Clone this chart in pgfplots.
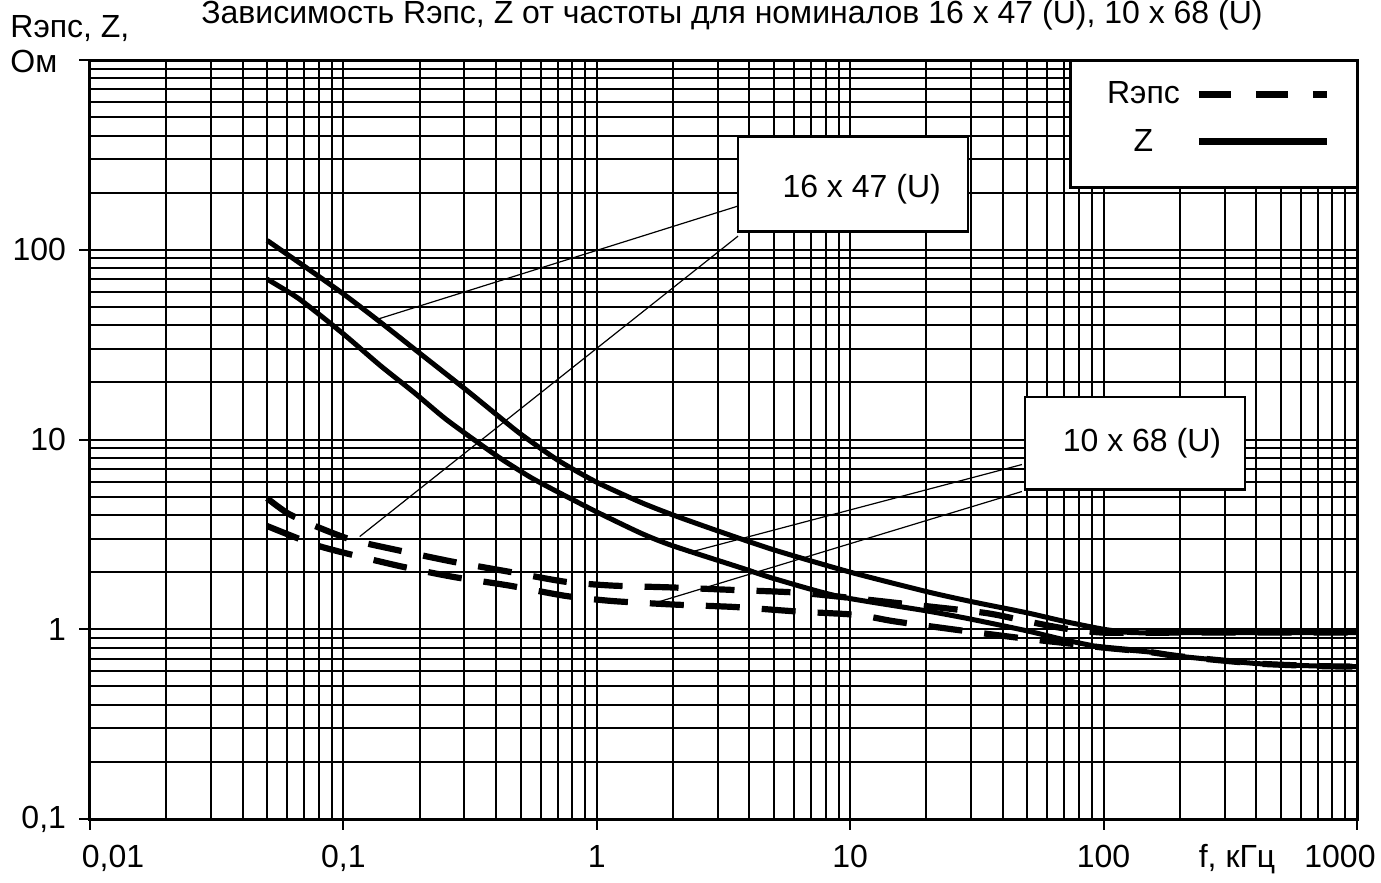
\documentclass[border=0pt]{standalone}
\usepackage{fontspec}
\setmainfont{Liberation Sans}
\usepackage{pgfplots}
\pgfplotsset{compat=1.18}
\newcommand{\lblfont}{\fontsize{16}{19}\selectfont}
\begin{document}
\begin{tikzpicture}
\path[use as bounding box] (-45pt,-32pt) rectangle (645.5pt,409.5pt);
\begin{axis}[
  at={(0pt,0pt)}, anchor=south west,
  scale only axis, width=633.5pt, height=379.5pt,
  xmode=log, ymode=log,
  xmin=0.01, xmax=1000, ymin=0.1, ymax=1000,
  clip=false,
  xtick={0.01,0.1,1,10,100,1000},
  xticklabels={{\hspace*{23pt}0,01},{0,1},1,10,100,{1000\hspace*{17pt}}},
  ytick={0.1,1,10,100,1000},
  yticklabels={{0,1},1,10,100,{}},
  minor xtick={0.02,0.03,0.04,0.05,0.06,0.07,0.08,0.09,
               0.2,0.3,0.4,0.5,0.6,0.7,0.8,0.9,
               2,3,4,5,6,7,8,9,20,30,40,50,60,70,80,90,
               200,300,400,500,600,700,800,900},
  minor ytick={0.2,0.3,0.4,0.5,0.6,0.7,0.8,0.9,
               2,3,4,5,6,7,8,9,20,30,40,50,60,70,80,90,
               200,300,400,500,600,700,800,900},
  grid=both,
  major grid style={black, line width=1pt},
  minor grid style={black, line width=1pt},
  axis line style={black, line width=1.5pt},
  tick pos=left, tick align=outside,
  major tick length=5.5pt, minor tick length=0pt,
  major tick style={black, line width=1pt},
  tick label style={font=\lblfont},
  xticklabel style={anchor=base, yshift=-19pt},
  yticklabel style={anchor=east, xshift=-3pt},
  legend plot pos=right,
  legend style={at={(0.8879,0.9236)}, anchor=center, draw=none, fill=none,
    inner sep=0pt, font=\lblfont, row sep=11pt,
    nodes={text width=44pt, align=center, inner sep=0pt},
    /tikz/every odd column/.append style={column sep=4pt}},
]
% legend frame and annotation boxes
\draw[line width=1.5pt, fill=white] (rel axis cs:0.7735,0.8314) rectangle (rel axis cs:1,1);
\draw[line width=1.2pt, fill=white] (axis cs:3.61,125) rectangle (axis cs:29.2,393);
\node[font=\lblfont] at (axis cs:11.1,208) {16 x 47 (U)};
\draw[line width=1.2pt, fill=white] (axis cs:49,5.45) rectangle (axis cs:361,16.7);
\node[font=\lblfont] at (axis cs:141.7,9.53) {10 x 68 (U)};
% leader lines
\draw[line width=0.6pt] (axis cs:3.61,170) -- (axis cs:0.136,43);
\draw[line width=0.6pt] (axis cs:3.61,118) -- (axis cs:0.116,3.08);
\draw[line width=0.6pt] (axis cs:47.6,7.38) -- (axis cs:2.29,2.53);
\draw[line width=0.6pt] (axis cs:47.6,5.32) -- (axis cs:1.77,1.40);

% ESR, 16 x 47
\addplot[black, line width=3.1pt, dash pattern=on 17pt off 11pt, smooth, tension=0.4,
  legend image code/.code={\draw[line width=3.5pt, dash pattern=on 16pt off 12.5pt] (0pt,0pt) -- (64pt,0pt);}]
  table {
  f R
  0.05 4.9
  0.06 4.1
  0.075 3.56
  0.107 2.97
  0.166 2.6
  0.27 2.27
  0.45 2.01
  0.75 1.78
  1.14 1.70
  2 1.66
  3.5 1.61
  6.2 1.56
  10.7 1.45
  15 1.38
  34 1.22
  50 1.10
  70 1.01
  100 0.96
  200 0.96
  500 0.96
  1000 0.96
  };
\addlegendentry{Rэпс}
% ESR, 10 x 68
\addplot[black, line width=3.1pt, dash pattern=on 17pt off 11pt, smooth, tension=0.4, forget plot]
  table {
  f R
  0.05 3.5
  0.077 2.79
  0.108 2.47
  0.17 2.14
  0.27 1.89
  0.45 1.70
  0.75 1.50
  1.14 1.41
  2 1.35
  3.5 1.31
  6.2 1.24
  10.7 1.19
  15 1.10
  30 0.97
  50 0.89
  80 0.83
  100 0.80
  150 0.76
  200 0.72
  400 0.66
  700 0.64
  1000 0.635
  };
% impedance, 16 x 47
\addplot[black, line width=2.5pt, smooth, tension=0.4,
  legend image code/.code={\draw[line width=3.5pt] (0pt,0pt) -- (64pt,0pt);}]
  table {
  f Z
  0.05 112
  0.07 82
  0.1 58.5
  0.14 41.5
  0.2 28.5
  0.3 18.6
  0.4 13.6
  0.5 10.7
  0.7 7.8
  1 5.95
  1.5 4.65
  2 4.0
  3 3.3
  5 2.62
  10 2.0
  20 1.58
  30 1.40
  50 1.22
  70 1.1
  100 1.0
  130 0.96
  200 0.96
  500 0.96
  1000 0.96
  };
\addlegendentry{Z}
% impedance, 10 x 68
\addplot[black, line width=2.5pt, smooth, tension=0.4, forget plot]
  table {
  f Z
  0.05 70
  0.067 55
  0.1 36
  0.14 24.5
  0.19 17.7
  0.25 13.0
  0.32 10.2
  0.42 7.9
  0.55 6.3
  0.7 5.3
  1 4.15
  1.5 3.2
  2 2.75
  3.7 2.11
  5 1.85
  9 1.49
  20 1.25
  30 1.13
  50 0.98
  70 0.88
  100 0.80
  150 0.76
  200 0.72
  400 0.66
  700 0.64
  1000 0.635
  };
\end{axis}
% titles and axis captions
\node[font=\lblfont, anchor=base] at (321pt,397.5pt)
  {Зависимость Rэпс, Z от частоты для номиналов 16 x 47 (U), 10 x 68 (U)};
\node[font=\lblfont, anchor=base west, inner sep=0pt] at (-40pt,390.5pt) {Rэпс, Z,};
\node[font=\lblfont, anchor=base west, inner sep=0pt] at (-40pt,373pt) {Ом};
\node[font=\lblfont, anchor=base, inner sep=0pt] at (573.5pt,-24.5pt) {f, кГц};
\end{tikzpicture}
\end{document}
